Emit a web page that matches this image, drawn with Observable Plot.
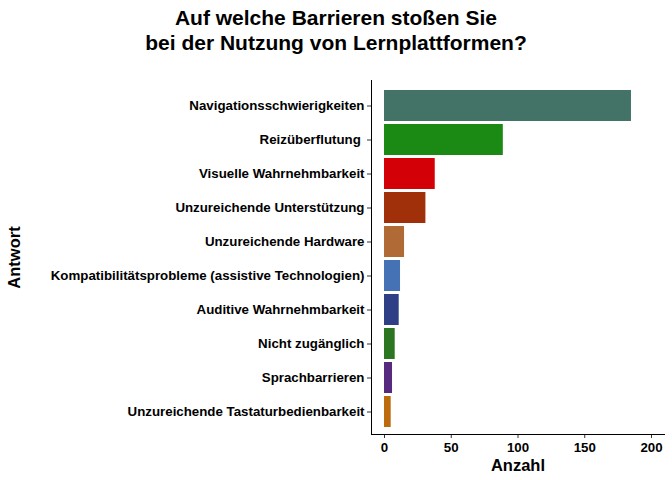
<!DOCTYPE html>
<html>
<head>
<meta charset="utf-8">
<script src="https://cdn.jsdelivr.net/npm/d3@7"></script>
<script src="https://cdn.jsdelivr.net/npm/@observablehq/plot@0.6"></script>
<style>
  body { margin: 0; background: #fff; }
  #title { width: 672px; height: 70px; box-sizing: border-box; padding-top: 5px;
    text-align: center; font: bold 21px "Liberation Sans", Arial, sans-serif; line-height: 25px; color: #000; }
</style>
</head>
<body>
<div id="title">Auf welche Barrieren stoßen Sie<br>bei der Nutzung von Lernplattformen?</div>
<div id="chart"></div>
<script>
const answers = [
  "Navigationsschwierigkeiten",
  "Reizüberflutung ",
  "Visuelle Wahrnehmbarkeit",
  "Unzureichende Unterstützung",
  "Unzureichende Hardware",
  "Kompatibilitätsprobleme (assistive Technologien)",
  "Auditive Wahrnehmbarkeit",
  "Nicht zugänglich",
  "Sprachbarrieren",
  "Unzureichende Tastaturbedienbarkeit"
];
const counts = [185, 89, 38, 31, 15, 12, 11, 8, 6, 5];
const colors = ["#437266", "#1B8A14", "#D40008", "#A0300A", "#B06A35", "#4472B4", "#2E3F85", "#2C7521", "#552A7F", "#BD6B0F"];
const xTicks = [0, 50, 100, 150, 200];
const xTitle = "Anzahl";
const yTitle = "Antwort";

const data = answers.map((a, i) => ({answer: a, count: counts[i], color: colors[i]}));

const chart = Plot.plot({
  width: 672,
  height: 410,
  marginLeft: 371,
  marginRight: 8,
  marginTop: 10,
  marginBottom: 46,
  style: {fontFamily: "'Liberation Sans', Arial, sans-serif", fontSize: "13.3px", fontWeight: "bold", color: "#000", background: "#fff"},
  x: {domain: [-9.75, 209.75]},
  y: {domain: answers, range: [17.4, 358.6], paddingInner: 0.09, paddingOuter: 0.045},
  marks: [
    Plot.barX(data, {x: "count", y: "answer", fill: "color"}),
    Plot.axisY({tickSize: 4, tickPadding: 3, label: null, stroke: "#333", fill: "#000",
      tickFormat: d => d.replace(/ $/, "\u00a0")}),
    Plot.axisX({ticks: xTicks, tickSize: 4, tickPadding: 4, label: null, stroke: "#333", fill: "#000"}),
    Plot.frame({anchor: "left", stroke: "#000"}),
    Plot.frame({anchor: "bottom", stroke: "#000"}),
    Plot.text([xTitle], {frameAnchor: "bottom", text: d => d, lineAnchor: "middle", dy: 31, fontSize: 16.5, fontWeight: "bold", fill: "#000"}),
    Plot.text([yTitle], {frameAnchor: "left", text: d => d, rotate: -90, textAnchor: "middle", dx: -357, dy: 0, fontSize: 16.5, fontWeight: "bold", fill: "#000"})
  ]
});
document.getElementById("chart").appendChild(chart);
</script>
</body>
</html>
